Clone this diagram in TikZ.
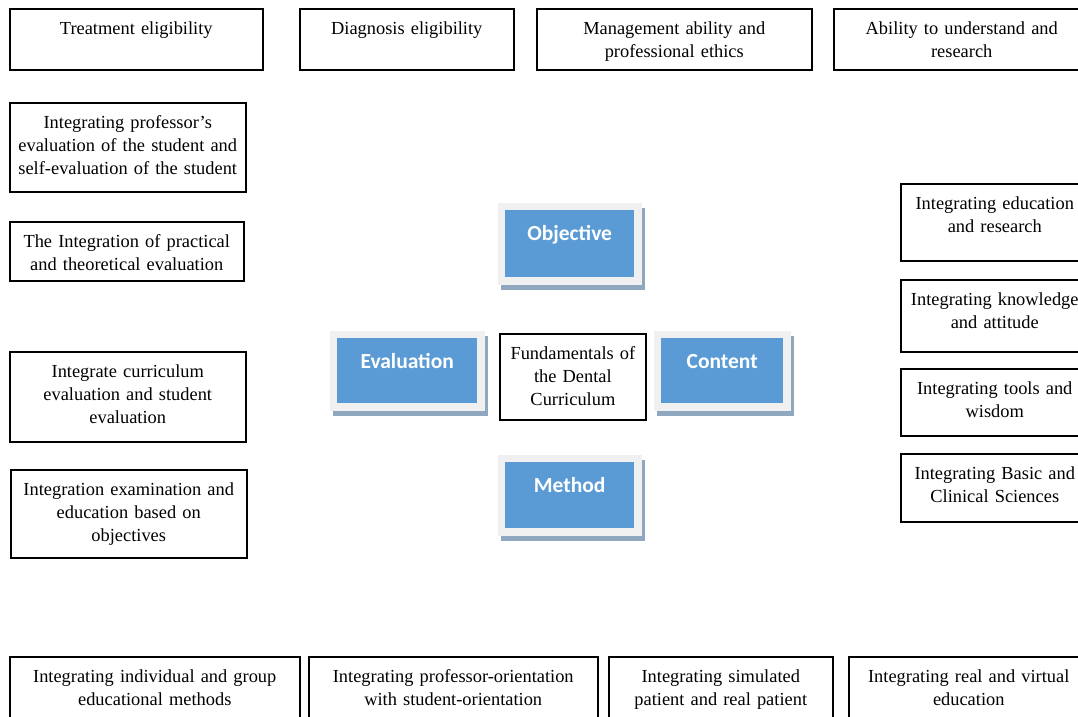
\documentclass[tikz,border=0pt]{standalone}
\usepackage{fontspec}
\setmainfont{Liberation Serif}
\newfontfamily\cardfont{Carlito}

\definecolor{cardblue}{RGB}{91,155,213}
\definecolor{cardframe}{RGB}{240,240,240}
\definecolor{cardshadow}{RGB}{143,168,192}

\begin{document}
\begin{tikzpicture}[x=1pt, y=-1pt,
  plainbox/.style 2 args={draw, line width=1.5pt, anchor=north west, align=center,
    inner xsep=0pt, inner ysep=1pt, text width=#1pt, text height=25pt, text depth=#2pt,
    font=\fontsize{18.4}{23}\selectfont},
  card/.style 2 args={anchor=north west, fill=cardblue, text=white, minimum width=#1pt,
    inner xsep=0pt, inner ysep=1pt, text height=29pt, text depth=#2pt,
    font=\cardfont\bfseries\fontsize{21.5}{25}\selectfont,
    preaction={draw=cardshadow, fill=cardshadow, line width=15pt,
      transform canvas={xshift=3pt, yshift=-5pt}},
    preaction={draw=cardframe, line width=15pt}}]

\useasboundingbox (0,0) rectangle (1078,716);
\clip (0,0) rectangle (1078,716);

% top row
\node (treat) [plainbox={253}{34}] at (9,8) {Treatment eligibility};
\node (diag) [plainbox={214}{34}] at (299,8) {Diagnosis eligibility};
\node (manage) [plainbox={275}{34}] at (536,8) {Management ability and\\ professional ethics};
\node (ability) [plainbox={256}{34}] at (833,8) {Ability to understand and\\ research};

% left column
\node (selfev) [plainbox={236}{62}] at (9,102) {Integrating professor’s\\ evaluation of the student and\\ self-evaluation of the student};
\node (practheo) [plainbox={234}{32}] at (9,221) {The Integration of practical\\ and theoretical evaluation};
\node (curric) [plainbox={236}{63}] at (9,351) {Integrate curriculum\\ evaluation and student\\ evaluation};
\node (exam) [plainbox={236}{61}] at (10,469) {Integration examination and\\ education based on\\ objectives};

% right column
\node (edures) [plainbox={188}{50}] at (900,183) {Integrating education\\ and research};
\node (knowatt) [plainbox={188}{45}] at (900,279) {Integrating knowledge\\ and attitude};
\node (toolwis) [plainbox={188}{40}] at (900,368) {Integrating tools and\\ wisdom};
\node (basclin) [plainbox={188}{41}] at (900,453) {Integrating Basic and\\ Clinical Sciences};

% bottom row
\node (indgroup) [plainbox={290}{53}] at (9,656) {Integrating individual and group\\ educational methods};
\node (profstud) [plainbox={289}{53}] at (308,656) {Integrating professor-orientation\\ with student-orientation};
\node (simreal) [plainbox={224}{53}] at (608,656) {Integrating simulated\\ patient and real patient};
\node (realvirt) [plainbox={240}{53}] at (848,656) {Integrating real and virtual\\ education};

% centre
\node (fund) [plainbox={146}{59}, line width=1.8pt] at (499,333) {Fundamentals of\\ the Dental\\ Curriculum};
\node (objective) [card={129}{36}] at (505,210) {Objective};
\node (evaluation) [card={140}{34}] at (337,338) {Evaluation};
\node (content) [card={122}{34}] at (661,338) {Content};
\node (method) [card={129}{35}] at (505,462) {Method};

\end{tikzpicture}
\end{document}
